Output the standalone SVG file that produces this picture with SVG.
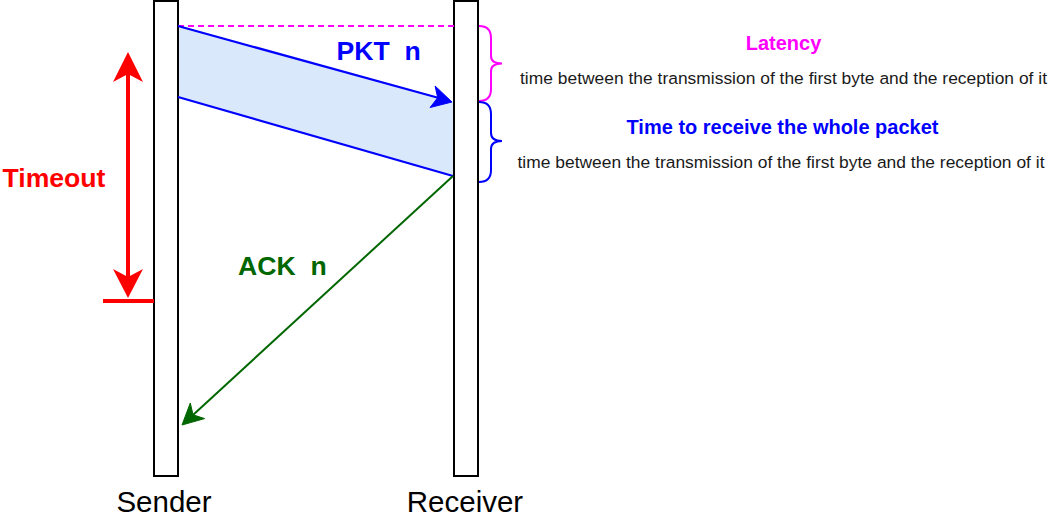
<svg xmlns="http://www.w3.org/2000/svg" width="1060" height="528" viewBox="0 0 1060 528">
  <style>
    .bar { fill: #ffffff; stroke: #000000; stroke-width: 2; }
    .lbl { font-family: "Liberation Sans", Arial, sans-serif; }
    .big { font-size: 26.6px; font-weight: bold; }
    .head { font-size: 20px; font-weight: bold; text-anchor: middle; }
    .desc { font-size: 17.4px; fill: #1a1a1a; text-anchor: middle; }
    .name { font-size: 29.5px; fill: #000000; text-anchor: middle; }
    .brace { fill: none; stroke-width: 2; }
  </style>
  <rect width="1060" height="528" fill="#ffffff"/>

  <g id="transfer-band">
    <polygon points="178,26 454,102 454,176 178,97" fill="#dae8fc"/>
  </g>

  <g id="sender">
    <rect class="bar" x="154" y="1" width="24" height="475"/>
    <text class="lbl name" x="164" y="512">Sender</text>
  </g>

  <g id="receiver">
    <rect class="bar" x="454" y="1" width="24" height="475"/>
    <text class="lbl name" x="465" y="512">Receiver</text>
  </g>

  <g id="connectors">
    <line x1="178" y1="26" x2="454" y2="26" stroke="#ff00ff" stroke-width="2.2" stroke-dasharray="6 4"/>
    <line x1="178" y1="26" x2="438" y2="97.8" stroke="#0000ff" stroke-width="2.2"/>
    <path d="M452,102 L430.1,107.5 L437.7,97.7 L435.1,86.0 Z" fill="#0000ff" stroke="#0000ff" stroke-width="1"/>
    <line x1="178" y1="97" x2="453" y2="176" stroke="#0000ff" stroke-width="2.2"/>
    <line x1="453" y1="176" x2="193" y2="415" stroke="#006600" stroke-width="2"/>
    <path d="M182,425 L190.3,403.0 L193.0,414.8 L204.6,418.6 Z" fill="#006600" stroke="#006600" stroke-width="1"/>
    <line x1="128" y1="72" x2="128" y2="279" stroke="#ff0000" stroke-width="4"/>
    <path d="M128,52 L143,82 L128,74 L113,82 Z" fill="#ff0000"/>
    <path d="M128,298 L143,269 L128,277 L113,269 Z" fill="#ff0000"/>
    <line x1="103" y1="301" x2="154" y2="301" stroke="#ff0000" stroke-width="4"/>
  </g>

  <g id="pkt-label">
    <text class="lbl big" x="336.5" y="60" fill="#0000ff" xml:space="preserve">PKT  n</text>
  </g>
  <g id="ack-label">
    <text class="lbl big" x="238" y="275" fill="#006600" xml:space="preserve">ACK  n</text>
  </g>
  <g id="timeout-label">
    <text class="lbl big" x="2.5" y="187" fill="#ff0000">Timeout</text>
  </g>

  <g id="latency">
    <path class="brace" stroke="#ff00ff" d="M479,26 Q491,26 491,38 L491,56 Q491,63.5 502,63.5 Q491,63.5 491,71 L491,89 Q491,101 479,101"/>
    <text class="lbl head" x="783.5" y="50" fill="#ff00ff">Latency</text>
    <text class="lbl desc" x="783.5" y="84" textLength="527" lengthAdjust="spacing">time between the transmission of the first byte and the reception of it</text>
  </g>

  <g id="receive-time">
    <path class="brace" stroke="#0000ff" d="M479,102 Q491,102 491,114 L491,133 Q491,141 502,141 Q491,141 491,149 L491,170 Q491,182 479,182"/>
    <text class="lbl head" x="782.5" y="134" fill="#0000ff">Time to receive the whole packet</text>
    <text class="lbl desc" x="781" y="168" textLength="527" lengthAdjust="spacing">time between the transmission of the first byte and the reception of it</text>
  </g>
</svg>
